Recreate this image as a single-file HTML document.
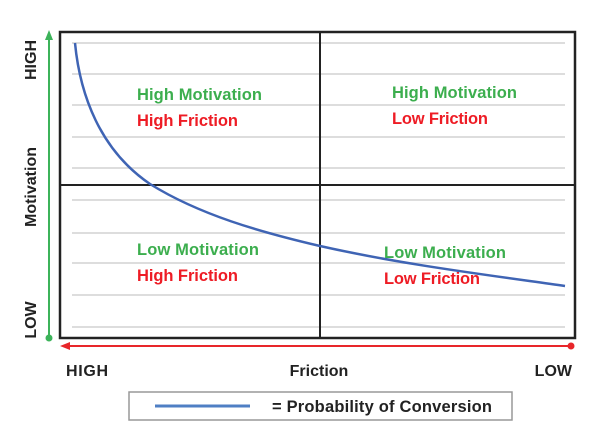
<!DOCTYPE html>
<html><head><style>
body{margin:0;background:#fff;}
svg text{font-family:"Liberation Sans",Arial,sans-serif;font-weight:bold;}
</style></head><body>
<svg width="600" height="432" xmlns="http://www.w3.org/2000/svg">
<g stroke="#ddd" stroke-width="2">
<line x1="72" y1="43" x2="565" y2="43"/><line x1="72" y1="74" x2="565" y2="74"/>
<line x1="72" y1="105" x2="565" y2="105"/><line x1="72" y1="137" x2="565" y2="137"/>
<line x1="72" y1="168" x2="565" y2="168"/><line x1="72" y1="200" x2="565" y2="200"/>
<line x1="72" y1="233" x2="565" y2="233"/><line x1="72" y1="263" x2="565" y2="263"/>
<line x1="72" y1="295" x2="565" y2="295"/><line x1="72" y1="327" x2="565" y2="327"/>
</g>
<rect x="60" y="32" width="515" height="306" fill="none" stroke="#222" stroke-width="2.5"/>
<line x1="320" y1="32" x2="320" y2="338" stroke="#222" stroke-width="2"/>
<line x1="60" y1="185" x2="575" y2="185" stroke="#222" stroke-width="2"/>
<path fill="none" stroke="#3f64b4" stroke-width="2.5" d="M75,43 C80,95 100,150 150,184 C200,215 260,232 320,246 C400,264 480,274 565,286"/>
<line x1="49" y1="40" x2="49" y2="337" stroke="#3cb35a" stroke-width="2"/>
<polygon points="49,30 45,40 53,40" fill="#3cb35a"/>
<circle cx="49" cy="338" r="3.5" fill="#3cb35a"/>
<line x1="68" y1="346" x2="570" y2="346" stroke="#e8262a" stroke-width="2"/>
<polygon points="60,346 70,342 70,350" fill="#e8262a"/>
<circle cx="571" cy="346" r="3.5" fill="#e8262a"/>
<g font-size="16.5">
<text x="137" y="100" fill="#3cae4e" textLength="125">High Motivation</text>
<text x="137" y="126" fill="#ee1c25" textLength="101">High Friction</text>
<text x="392" y="98" fill="#3cae4e" textLength="125">High Motivation</text>
<text x="392" y="124" fill="#ee1c25" textLength="96">Low Friction</text>
<text x="137" y="255" fill="#3cae4e" textLength="122">Low Motivation</text>
<text x="137" y="281" fill="#ee1c25" textLength="101">High Friction</text>
<text x="384" y="258" fill="#3cae4e" textLength="122">Low Motivation</text>
<text x="384" y="284" fill="#ee1c25" textLength="96">Low Friction</text>
</g>
<g font-size="16" fill="#222">
<text x="66" y="376" textLength="42">HIGH</text>
<text x="319" y="376" text-anchor="middle">Friction</text>
<text x="572" y="376" text-anchor="end">LOW</text>
<text transform="translate(36,60) rotate(-90)" text-anchor="middle">HIGH</text>
<text transform="translate(36,187) rotate(-90)" text-anchor="middle">Motivation</text>
<text transform="translate(36,320) rotate(-90)" text-anchor="middle">LOW</text>
</g>
<rect x="129" y="392" width="383" height="28" fill="#fff" stroke="#999" stroke-width="1.5"/>
<line x1="155" y1="406" x2="250" y2="406" stroke="#4f7fc4" stroke-width="3"/>
<text x="272" y="412" font-size="16.5" fill="#222" textLength="220">= Probability of Conversion</text>
</svg>
</body></html>
